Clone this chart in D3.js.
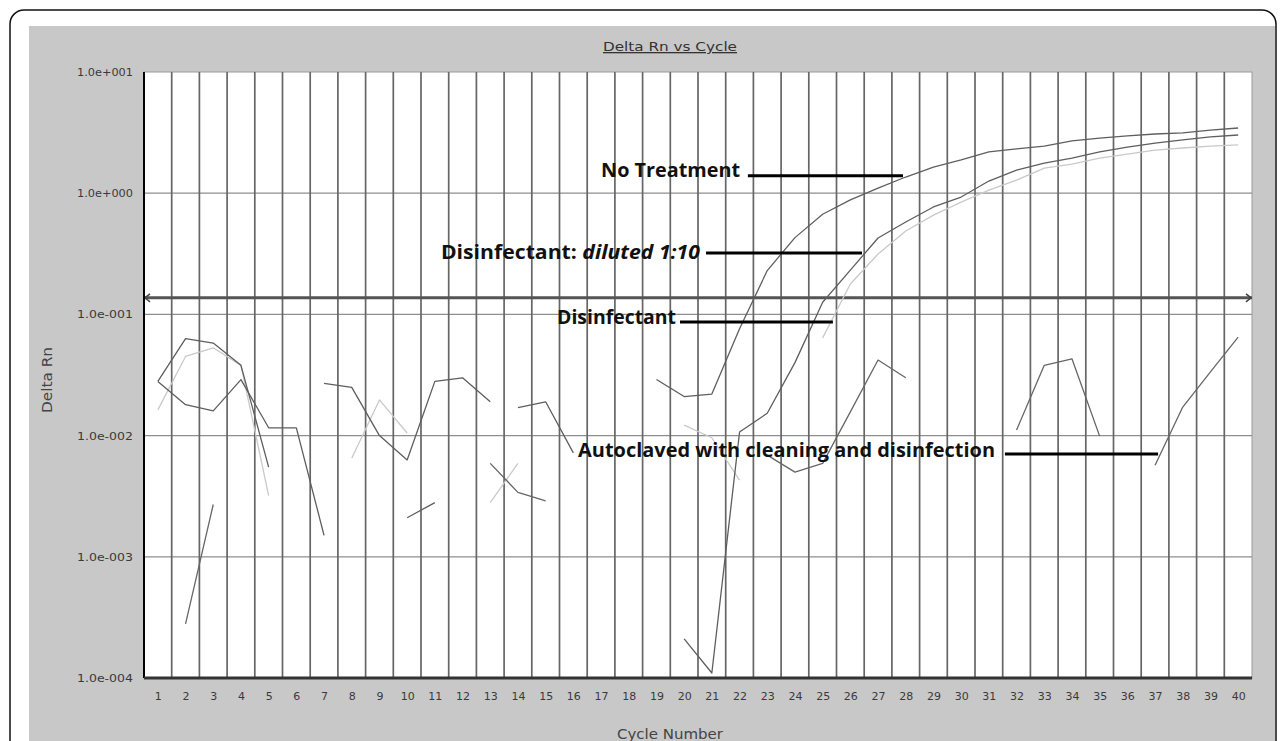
<!DOCTYPE html>
<html>
<head>
<meta charset="utf-8">
<script src="https://cdn.jsdelivr.net/npm/d3@7/dist/d3.min.js"></script>
<style>
  html, body { margin: 0; padding: 0; background: #fff; }
  svg { display: block; }
</style>
</head>
<body>
<svg id="chart" width="1281" height="741"></svg>
<script>
const cycles = [1, 2, 3, 4, 5, 6, 7, 8, 9, 10, 11, 12, 13, 14, 15, 16, 17, 18, 19, 20,
    21, 22, 23, 24, 25, 26, 27, 28, 29, 30, 31, 32, 33, 34, 35, 36, 37, 38, 39, 40];
const yTickValues = [1e-4, 1e-3, 1e-2, 1e-1, 1, 10];
const yTickLabels = ['1.0e-004', '1.0e-003', '1.0e-002', '1.0e-001', '1.0e+000', '1.0e+001'];
const threshold = 0.137;

// one value per cycle, null where the trace drops out (negative on a log axis)
const noTreatment = [0.028, 0.063, 0.058, 0.038, 0.0055, null, 0.027, 0.025, 0.010, 0.0063,
    0.028, 0.030, 0.019, null, null, null, null, null, 0.029, 0.021,
    0.022, 0.076, 0.23, 0.43, 0.67, 0.88, 1.10, 1.36, 1.64, 1.88,
    2.19, 2.32, 2.45, 2.70, 2.85, 2.97, 3.08, 3.14, 3.32, 3.45];
const diluted = [0.028, 0.018, 0.016, 0.029, 0.0116, 0.0116, 0.0015, null, null, 0.0021,
    0.0028, null, null, 0.017, 0.019, 0.0072, null, null, null, 0.00021,
    0.00011, 0.0107, 0.0153, 0.040, 0.126, 0.232, 0.427, 0.578, 0.77, 0.93,
    1.26, 1.55, 1.77, 1.95, 2.19, 2.40, 2.59, 2.75, 2.91, 3.02];
const autoclaved = [null, 0.00028, 0.0027, null, null, null, null, null, null, null,
    null, null, 0.0059, 0.0034, 0.0029, null, null, null, null, null,
    null, null, 0.0069, 0.0050, 0.0059, 0.0157, 0.042, 0.030, null, null,
    null, 0.0111, 0.038, 0.043, 0.0099, null, 0.0057, 0.0172, 0.0335, 0.065];
const disinfectant = [0.0163, 0.045, 0.053, 0.038, 0.0032, null, null, 0.0065, 0.0197, 0.0105,
    null, null, 0.0028, 0.0059, null, null, null, null, null, 0.0122,
    0.0096, 0.0043, null, null, 0.064, 0.178, 0.315, 0.488, 0.66, 0.845,
    1.06, 1.28, 1.61, 1.74, 1.95, 2.10, 2.27, 2.36, 2.45, 2.50];

const traces = [
    { values: disinfectant, color: '#c9c9c9' },
    { values: autoclaved, color: '#666' },
    { values: diluted, color: '#5e5e5e' },
    { values: noTreatment, color: '#5e5e5e' },
];

const svg = d3.select('#chart');
const margin = { left: 144, top: 72, right: 1252, bottom: 678 };
const labelFont = 'DejaVu Sans, Verdana, sans-serif';

const x = d3.scaleLinear().domain([0.5, 40.5]).range([margin.left, margin.right]);
const y = d3.scaleLog().domain([1e-4, 10]).range([margin.bottom, margin.top]);

// frame and gray panel
svg.append('rect')
    .attr('x', 10).attr('y', 10).attr('width', 1266).attr('height', 800)
    .attr('rx', 14)
    .attr('fill', '#fff').attr('stroke', '#111').attr('stroke-width', 1.5);
svg.append('rect')
    .attr('x', 29).attr('y', 26).attr('width', 1246).attr('height', 800)
    .attr('fill', '#c8c8c8');

// plot area
svg.append('rect')
    .attr('x', margin.left).attr('y', margin.top)
    .attr('width', margin.right - margin.left).attr('height', margin.bottom - margin.top)
    .attr('fill', '#fff').attr('stroke', '#9a9a9a').attr('stroke-width', 1);

// horizontal grid at decades
svg.append('g')
    .selectAll('line')
    .data(yTickValues.slice(1, -1))
    .join('line')
    .attr('x1', margin.left).attr('x2', margin.right)
    .attr('y1', d => y(d)).attr('y2', d => y(d))
    .attr('stroke', '#8e8e8e').attr('stroke-width', 1.2);

// vertical grid between cycles
svg.append('g')
    .selectAll('line')
    .data(cycles.slice(0, -1).map(c => c + 0.5))
    .join('line')
    .attr('x1', d => x(d)).attr('x2', d => x(d))
    .attr('y1', margin.top).attr('y2', margin.bottom)
    .attr('stroke', '#666').attr('stroke-width', 1.7);

// threshold with arrow heads
const ty = y(threshold);
svg.append('line')
    .attr('x1', margin.left).attr('x2', margin.right)
    .attr('y1', ty).attr('y2', ty)
    .attr('stroke', '#555').attr('stroke-width', 3);
svg.append('path')
    .attr('d', `M${margin.left + 6},${ty - 4}L${margin.left + 1},${ty}L${margin.left + 6},${ty + 4}`
        + `M${margin.right - 6},${ty - 4}L${margin.right - 1},${ty}L${margin.right - 6},${ty + 4}`)
    .attr('fill', 'none').attr('stroke', '#444').attr('stroke-width', 1.5);

// traces
const line = d3.line()
    .defined(d => d.v != null)
    .x(d => x(d.c))
    .y(d => y(d.v));

svg.append('g')
    .selectAll('path')
    .data(traces)
    .join('path')
    .attr('d', t => line(t.values.map((v, i) => ({ c: cycles[i], v }))))
    .attr('fill', 'none')
    .attr('stroke', t => t.color)
    .attr('stroke-width', 1.3)
    .attr('stroke-linejoin', 'round');

// axis lines
svg.append('line')
    .attr('x1', margin.left).attr('x2', margin.left)
    .attr('y1', margin.top).attr('y2', margin.bottom)
    .attr('stroke', '#000').attr('stroke-width', 2);
svg.append('line')
    .attr('x1', margin.left).attr('x2', margin.right)
    .attr('y1', margin.bottom).attr('y2', margin.bottom)
    .attr('stroke', '#333').attr('stroke-width', 3);

// axes labels
const xAxis = svg.append('g')
    .attr('transform', `translate(0,${margin.bottom})`)
    .call(d3.axisBottom(x).tickValues(cycles).tickSize(0).tickPadding(14));
xAxis.select('.domain').remove();
xAxis.selectAll('text')
    .attr('font-family', labelFont)
    .attr('font-size', 11).attr('fill', '#3a3a3a');

const yAxis = svg.append('g')
    .attr('transform', `translate(${margin.left},0)`)
    .call(d3.axisLeft(y).tickValues(yTickValues).tickSize(0).tickPadding(11)
        .tickFormat((d, i) => yTickLabels[i]));
yAxis.select('.domain').remove();
yAxis.selectAll('text')
    .attr('font-family', labelFont)
    .attr('font-size', 11).attr('fill', '#3a3a3a')
    .attr('textLength', 56).attr('lengthAdjust', 'spacingAndGlyphs');

svg.append('text')
    .attr('x', 603).attr('y', 51)
    .attr('font-family', labelFont)
    .attr('font-size', 13).attr('fill', '#333')
    .attr('text-decoration', 'underline')
    .attr('textLength', 134).attr('lengthAdjust', 'spacingAndGlyphs')
    .text('Delta Rn vs Cycle');

svg.append('text')
    .attr('transform', 'translate(52,413) rotate(-90)')
    .attr('font-family', labelFont)
    .attr('font-size', 14).attr('fill', '#444')
    .attr('textLength', 66).attr('lengthAdjust', 'spacingAndGlyphs')
    .text('Delta Rn');

svg.append('text')
    .attr('x', 617).attr('y', 739)
    .attr('font-family', labelFont)
    .attr('font-size', 14).attr('fill', '#444')
    .attr('textLength', 106).attr('lengthAdjust', 'spacingAndGlyphs')
    .text('Cycle Number');

// annotations, placed in data coordinates
const annotations = [
    { parts: [['No Treatment', 'normal']], width: 139, at: 17.0, base: 1.36, from: 22.3, to: 27.9, lineAt: 1.39 },
    { parts: [['Disinfectant: ', 'normal'], ['diluted 1:10', 'italic']], width: 259, at: 11.22, base: 0.2865, from: 20.79, to: 26.42, lineAt: 0.321 },
    { parts: [['Disinfectant', 'normal']], width: 119, at: 15.41, base: 0.0833, from: 19.85, to: 25.37, lineAt: 0.0866 },
    { parts: [['Autoclaved with cleaning and disinfection', 'normal']], width: 417, at: 16.17, base: 0.00666, from: 31.58, to: 37.11, lineAt: 0.00705 },
];

const ann = svg.append('g');
annotations.forEach(a => {
    const t = ann.append('text')
        .attr('x', x(a.at)).attr('y', y(a.base))
        .attr('font-family', 'Open Sans, Noto Sans, sans-serif')
        .attr('font-weight', 700)
        .attr('font-size', 19)
        .attr('fill', '#111')
        .attr('textLength', a.width)
        .attr('lengthAdjust', 'spacingAndGlyphs');
    a.parts.forEach(([s, style]) => {
        t.append('tspan')
            .attr('font-style', style)
            .text(s);
    });
    ann.append('line')
        .attr('x1', x(a.from)).attr('x2', x(a.to))
        .attr('y1', y(a.lineAt)).attr('y2', y(a.lineAt))
        .attr('stroke', '#000').attr('stroke-width', 3);
});
</script>
</body>
</html>
